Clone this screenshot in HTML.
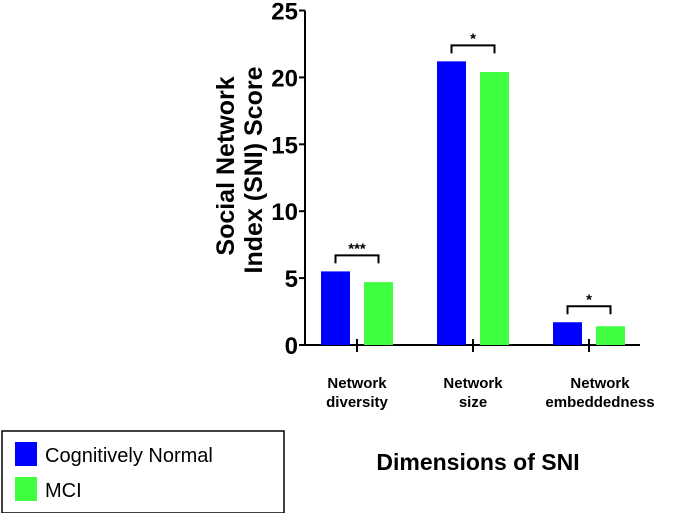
<!DOCTYPE html>
<html><head><meta charset="utf-8"><style>
body{margin:0;background:#fff;width:684px;height:513px;overflow:hidden;font-family:"Liberation Sans",Arial,sans-serif}
</style></head><body>
<svg width="684" height="513" xmlns="http://www.w3.org/2000/svg">
<g id="root"></g>
<g font-size="25" font-weight="bold" text-anchor="middle">
<text transform="translate(234,166) rotate(-90)">Social Network</text>
<text transform="translate(262,170) rotate(-90)">Index (SNI) Score</text>
</g>
<text x="478" y="470" text-anchor="middle" font-size="23" font-weight="bold">Dimensions of SNI</text>
<g>
<rect x="2" y="431" width="282" height="82" fill="#fff" stroke="#000" stroke-width="1.5"/>
<rect x="15" y="442" width="22" height="24" fill="#0000ff"/>
<text x="45" y="462" font-size="20">Cognitively Normal</text>
<rect x="15" y="477" width="22" height="24" fill="#40ff40"/>
<text x="45" y="497" font-size="20">MCI</text>
</g>
</svg>
<script>
const categories=[["Network","diversity"],["Network","size"],["Network","embeddedness"]];
const cnValues=[5.5,21.2,1.7];
const mciValues=[4.7,20.4,1.4];
const sigLabels=["***","*","*"];
const yTicks=[0,5,10,15,20,25];
const NS="http://www.w3.org/2000/svg";
const root=document.getElementById('root');
const y0=345,pxPerUnit=13.38,xLeft=305,xRight=640,groupW=116,firstCenter=357,barW=29;
const y=v=>y0-v*pxPerUnit;
const xc=i=>firstCenter+i*groupW;
function mk(t,a){const e=document.createElementNS(NS,t);for(const k in a)e.setAttribute(k,a[k]);root.appendChild(e);return e;}
let ax=mk('line',{x1:xLeft,y1:y(25),x2:xLeft,y2:y0,stroke:'#000','stroke-width':2});


let bx=mk('line',{x1:xLeft,y1:y0,x2:xRight,y2:y0,stroke:'#000','stroke-width':2});


yTicks.forEach(t=>{
 const l=mk('line',{x1:xLeft-6,y1:y(t),x2:xLeft,y2:y(t),stroke:'#000','stroke-width':2});
 
 
 const tx=mk('text',{x:xLeft-7,y:y(t)+9,'text-anchor':'end','font-size':24,'font-weight':'bold'});
 tx.textContent=t;
 
 
});
categories.forEach((c,i)=>{
 const cx=xc(i);
 const tk=mk('line',{x1:cx,y1:y0-6,x2:cx,y2:y0+7,stroke:'#000','stroke-width':2});
 
 
 const b1x=cx-7-barW, b2x=cx+7;
 const b1=mk('rect',{x:b1x,y:y(cnValues[i]),width:barW,height:cnValues[i]*pxPerUnit,fill:'#0000ff'});
 
 
 const b2=mk('rect',{x:b2x,y:y(mciValues[i]),width:barW,height:mciValues[i]*pxPerUnit,fill:'#40ff40'});
 
 
 const top=y(Math.max(cnValues[i],mciValues[i]))-8;
 const l=b1x+barW/2, r=b2x+barW/2;
 const br=mk('path',{d:`M${l} ${top} V${top-8} H${r} V${top}`,fill:'none',stroke:'#000','stroke-width':2});
 
 
 const st=mk('text',{x:(l+r)/2,y:top-10,'text-anchor':'middle','font-size':15,'font-weight':'bold'});
 st.textContent=sigLabels[i];
 
 
 const lx=cx+(i==2?11:0);
 const lab=mk('text',{x:lx,y:388,'text-anchor':'middle','font-size':15,'font-weight':'bold'});
 
 
 c.forEach((s,j)=>{const ts=document.createElementNS(NS,'tspan');ts.setAttribute('x',lx);ts.setAttribute('dy',j?19:0);ts.textContent=s;lab.appendChild(ts);});
});
</script>
</body></html>
